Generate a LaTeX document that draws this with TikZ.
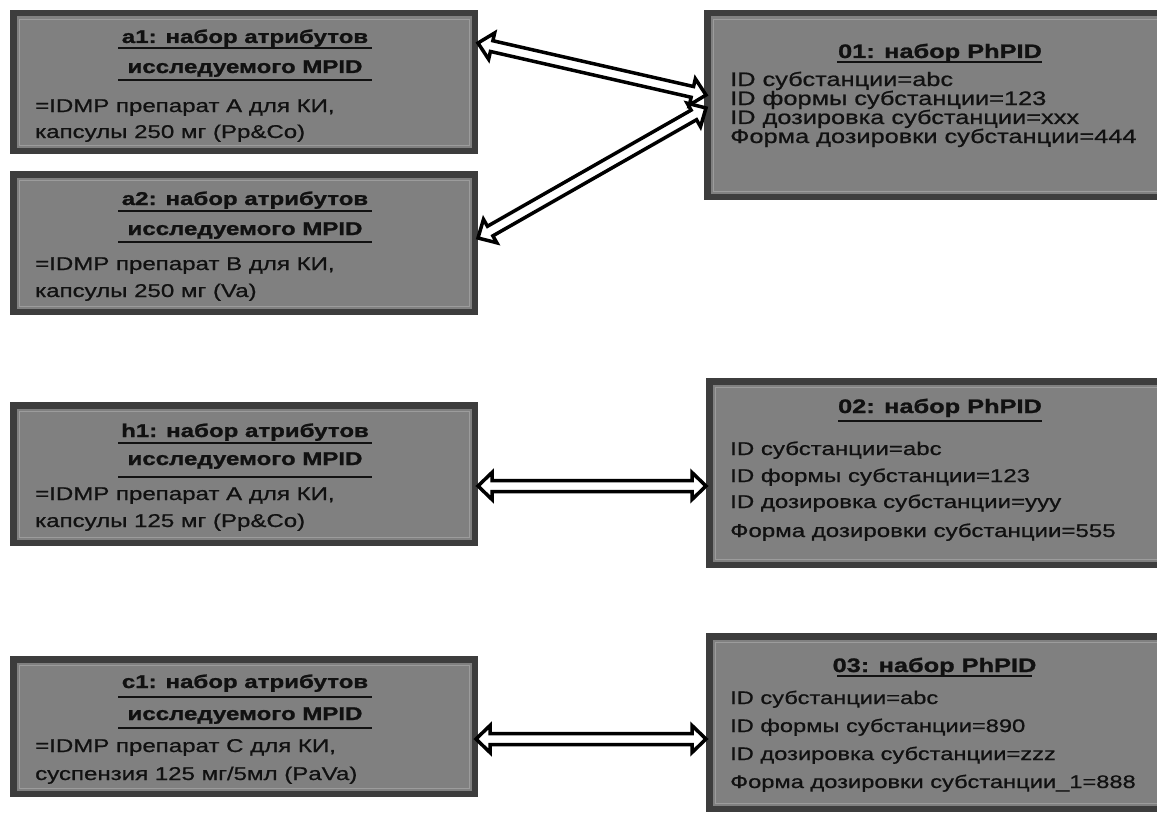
\documentclass[tikz,border=0pt]{standalone}
\usepackage{fontspec}
\setmainfont{Liberation Sans}[FakeStretch=1.3]
\newfontfamily\bodyf{Liberation Sans}[FakeStretch=1.3, FakeBold=0.8]
\newfontfamily\titlef{Liberation Sans}[FakeStretch=1.3, UprightFont={* Bold}, FakeBold=1.2]
\usetikzlibrary{calc}
\definecolor{boxfill}{HTML}{808080}
\definecolor{boxedge}{HTML}{3D3D3D}
\definecolor{boxinner}{HTML}{9C9C9C}
\definecolor{txt}{HTML}{111111}
\newcommand\biarrow[2]{%
  \draw[dblarr] (#1)
    -- ($(#1)!14pt!(#2)!13.5pt!90:(#2)$)
    -- ($(#1)!14pt!(#2)!5.5pt!90:(#2)$)
    -- ($(#2)!14pt!(#1)!5.5pt!-90:(#1)$)
    -- ($(#2)!14pt!(#1)!13.5pt!-90:(#1)$)
    -- (#2)
    -- ($(#2)!14pt!(#1)!13.5pt!90:(#1)$)
    -- ($(#2)!14pt!(#1)!5.5pt!90:(#1)$)
    -- ($(#1)!14pt!(#2)!5.5pt!-90:(#2)$)
    -- ($(#1)!14pt!(#2)!13.5pt!-90:(#2)$)
    -- cycle;}
\tikzset{
  box/.style={draw=boxedge, fill=boxfill, line width=6.5pt, inner sep=0pt, outer sep=3.25pt},
  innerline/.style={draw=boxinner, line width=0.8pt},
  ltitle/.style={anchor=base, inner sep=0pt, text=txt, font=\titlef\fontsize{18.5}{20}\selectfont},
  lbody/.style={anchor=base west, inner sep=0pt, text=txt, font=\bodyf\fontsize{18.5}{20}\selectfont},
  rtitle/.style={anchor=base, inner sep=0pt, text=txt, font=\titlef\fontsize{19.5}{20}\selectfont},
  rbody/.style={anchor=base west, inner sep=0pt, text=txt, font=\bodyf\fontsize{19.5}{20}\selectfont},
  rbodyb/.style={rbody, font=\bodyf\fontsize{18.5}{20}\selectfont},
  rbodyc/.style={rbody, font=\bodyf\fontsize{18.2}{20}\selectfont},
  uline/.style={draw=txt, line width=2.6pt},
  dblarr/.style={draw=black, fill=white, line width=3.5pt, line join=miter}
}
\begin{document}
\begin{tikzpicture}[x=1pt, y=-1pt]
\useasboundingbox (0,0) rectangle (1157,816);
\clip (0,0) rectangle (1157,816);
\fill[white] (0,0) rectangle (1157,816);

% left boxes
\node[box, minimum width=461.5pt, minimum height=137.5pt] (a1) at (244,82) {};
\node[box, minimum width=461.5pt, minimum height=137.5pt] (a2) at (244,243) {};
\node[box, minimum width=461.5pt, minimum height=137.5pt] (h1) at (244,474) {};
\node[box, minimum width=461.5pt, minimum height=134.5pt] (c1) at (244,726.5) {};
% right boxes
\node[box, minimum width=465.5pt, minimum height=183.5pt] (o1) at (940,105) {};
\node[box, minimum width=463.5pt, minimum height=183.5pt] (o2) at (941,473) {};
\node[box, minimum width=463.5pt, minimum height=172.5pt] (o3) at (941,722.5) {};

\foreach \b in {a1,a2,h1,c1,o1,o2,o3}
  \draw[innerline] ($(\b.north west)+(9,9)$) rectangle ($(\b.south east)+(-9,-9)$);

% a1
\node[ltitle] (a1t1) at (245,43) {a1: набор атрибутов};
\draw[uline] (118,48) -- (372,48);
\node[ltitle] (a1t2) at (245,73) {исследуемого MPID};
\draw[uline] (118,80) -- (372,80);
\node[lbody] (a1b1) at (35,112) {=IDMP препарат А для КИ,};
\node[lbody] (a1b2) at (35,138) {капсулы 250 мг (Pp\&Co)};
% a2
\node[ltitle] (a2t1) at (245,205) {a2: набор атрибутов};
\draw[uline] (118,211) -- (372,211);
\node[ltitle] (a2t2) at (245,235) {исследуемого MPID};
\draw[uline] (118,242) -- (372,242);
\node[lbody] (a2b1) at (35,270) {=IDMP препарат В для КИ,};
\node[lbody] (a2b2) at (35,297) {капсулы 250 мг (Va)};
% h1
\node[ltitle] (h1t1) at (245,437) {h1: набор атрибутов};
\draw[uline] (118,443) -- (372,443);
\node[ltitle] (h1t2) at (245,465) {исследуемого MPID};
\draw[uline] (118,477) -- (372,477);
\node[lbody] (h1b1) at (35,500) {=IDMP препарат А для КИ,};
\node[lbody] (h1b2) at (35,527) {капсулы 125 мг (Pp\&Co)};
% c1
\node[ltitle] (c1t1) at (245,688) {c1: набор атрибутов};
\draw[uline] (118,697) -- (372,697);
\node[ltitle] (c1t2) at (245,720) {исследуемого MPID};
\draw[uline] (118,728) -- (372,728);
\node[lbody] (c1b1) at (35,752) {=IDMP препарат С для КИ,};
\node[lbody] (c1b2) at (35,780) {суспензия 125 мг/5мл (PaVa)};

% 01
\node[rtitle] (o1t) at (940,58) {01: набор PhPID};
\draw[uline] (837,62) -- (1042,62);
\node[rbody] (o1b1) at (730,86) {ID субстанции=abc};
\node[rbody] (o1b2) at (730,105) {ID формы субстанции=123};
\node[rbody] (o1b3) at (730,124) {ID дозировка субстанции=xxx};
\node[rbody] (o1b4) at (730,143) {Форма дозировки субстанции=444};
% 02
\node[rtitle] (o2t) at (940,413) {02: набор PhPID};
\draw[uline] (838,421) -- (1042,421);
\node[rbodyb] (o2b1) at (730,455) {ID субстанции=abc};
\node[rbodyb] (o2b2) at (730,482) {ID формы субстанции=123};
\node[rbodyb] (o2b3) at (730,508) {ID дозировка субстанции=yyy};
\node[rbodyb] (o2b4) at (730,537) {Форма дозировки субстанции=555};
% 03
\node[rtitle] (o3t) at (934.5,672) {03: набор PhPID};
\draw[uline] (837,676) -- (1032,676);
\node[rbodyc] (o3b1) at (730,704) {ID субстанции=abc};
\node[rbodyc] (o3b2) at (730,732) {ID формы субстанции=890};
\node[rbodyc] (o3b3) at (730,760) {ID дозировка субстанции=zzz};
\node[rbodyc] (o3b4) at (730,788) {Форма дозировки субстанции\_1=888};

% connector ends
\coordinate (a1r) at ($(a1.north east)+(0,33)$);
\coordinate (o1l1) at ($(o1.north west)+(2,85)$);
\coordinate (a2r) at ($(a2.north east)+(0,67)$);
\coordinate (o1l2) at ($(o1.north west)+(2,98)$);
\coordinate (h1r) at ($(h1.east)+(0,12)$);
\coordinate (o2l) at ($(o2.west)+(0,13)$);
\coordinate (c1r) at ($(c1.east)+(-2,12.5)$);
\coordinate (o3l) at ($(o3.west)+(0,16.5)$);

\biarrow{a1r}{o1l1}
\biarrow{a2r}{o1l2}
\biarrow{h1r}{o2l}
\biarrow{c1r}{o3l}
\end{tikzpicture}
\end{document}
